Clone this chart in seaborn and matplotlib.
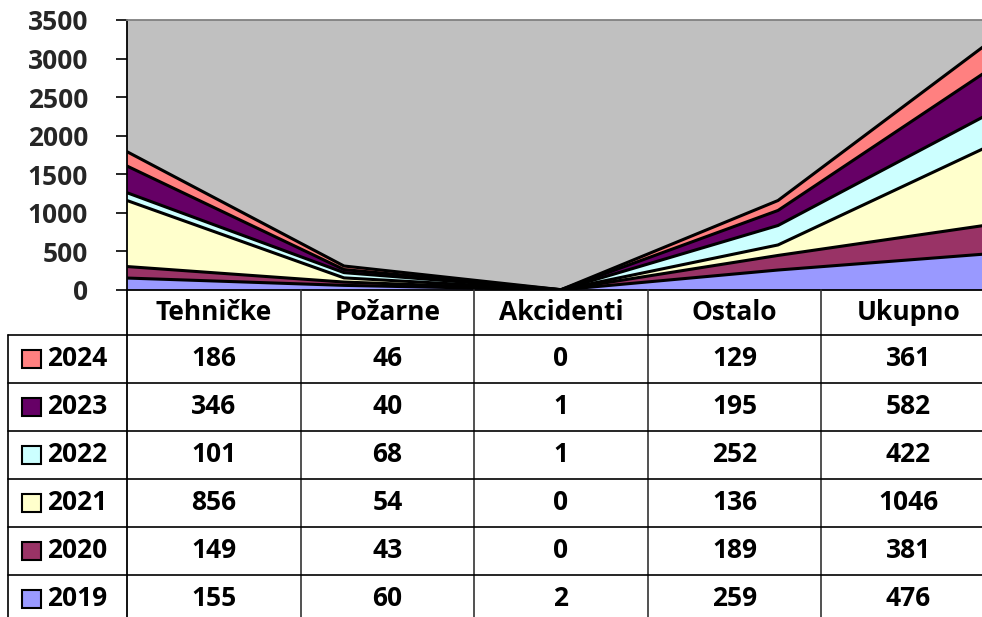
import numpy as np
import pandas as pd
import matplotlib
matplotlib.use('Agg')
import matplotlib.pyplot as plt
import seaborn as sns
from matplotlib.patches import Rectangle

# Podaci
categories = ['Tehničke', 'Požarne', 'Akcidenti', 'Ostalo', 'Ukupno']
years = ['2019', '2020', '2021', '2022', '2023', '2024']
v2019 = [155, 60, 2, 259, 476]
v2020 = [149, 43, 0, 189, 381]
v2021 = [856, 54, 0, 136, 1046]
v2022 = [101, 68, 1, 252, 422]
v2023 = [346, 40, 1, 195, 582]
v2024 = [186, 46, 0, 129, 361]
series = [v2019, v2020, v2021, v2022, v2023, v2024]
colors = ['#9999FF', '#993366', '#FFFFCC', '#CCFFFF', '#660066', '#FF8080']
y_ticks = [0, 500, 1000, 1500, 2000, 2500, 3000, 3500]

sns.set_theme(style='white')
plt.rcParams['font.family'] = ['Open Sans', 'DejaVu Sans']
plt.rcParams['font.weight'] = 'bold'
FS = 19

W, H = 982, 617
fig = plt.figure(figsize=(W / 100, H / 100), dpi=100)


def box(x0, y0, x1, y1):
    return [x0 / W, 1 - y1 / H, (x1 - x0) / W, (y1 - y0) / H]


# Grafikon (stacked area)
ax = fig.add_axes(box(127, 20, 995, 290))
ax.set_facecolor('#C0C0C0')

df = pd.DataFrame({'x': range(len(categories))})
for yr, vals in zip(years, series):
    df[yr] = vals
cum = df[years].cumsum(axis=1)

prev = np.zeros(len(categories))
for yr, c in zip(years, colors):
    top = cum[yr].values
    ax.fill_between(df['x'], prev, top, facecolor=c, edgecolor='none', zorder=2)
    prev = top

long = cum.assign(x=df['x']).melt(id_vars='x', var_name='year', value_name='y')
sns.lineplot(data=long, x='x', y='y', units='year', estimator=None,
             color='black', lw=2.2, ax=ax, zorder=3, legend=False)

ax.set_xlim(0, len(categories) - 1)
ax.set_ylim(0, 3500)
ax.set_yticks(y_ticks)
ax.set_yticklabels([str(t) for t in y_ticks], fontsize=FS, fontweight='bold')
ax.set_xticks([])
ax.set_xlabel('')
ax.set_ylabel('')
ax.tick_params(axis='y', direction='out', length=8, width=1.2, color='black', pad=20, left=True)
for s in ['left', 'bottom']:
    ax.spines[s].set_color('black')
    ax.spines[s].set_linewidth(1.3)
for s in ['top', 'right']:
    ax.spines[s].set_color('#808080')
    ax.spines[s].set_linewidth(1.3)

# Tablica podataka
tab = fig.add_axes([0, 0, 1, 1], zorder=5)
tab.set_xlim(0, W)
tab.set_ylim(H, 0)
tab.axis('off')
tab.patch.set_alpha(0)

col_edges = [127 + i * 173.6 for i in range(len(categories) + 1)]
row_h = 48
head_top, head_bot = 290, 335
for i, cat in enumerate(categories):
    xc = (col_edges[i] + col_edges[i + 1]) / 2
    tab.text(xc, (head_top + head_bot) / 2, cat, ha='center', va='center',
             fontsize=FS, fontweight='bold', color='black')

for x in col_edges[1:]:
    tab.plot([x, x], [head_top, H], color='#333333', lw=1.2)
tab.plot([127, 127], [head_top, H], color='black', lw=1.3)
tab.plot([8, 8], [head_bot, H], color='black', lw=1.2)

rows = list(zip(years, series, colors))[::-1]
for r, (yr, vals, c) in enumerate(rows):
    y0 = head_bot + r * row_h
    yc = y0 + row_h / 2
    tab.plot([8, W], [y0, y0], color='black', lw=1.2)
    tab.add_patch(Rectangle((22, yc - 9), 19, 18, facecolor=c, edgecolor='black', lw=1.5))
    tab.text(47, yc, yr, ha='left', va='center', fontsize=FS, fontweight='bold', color='black')
    for i, v in enumerate(vals):
        xc = (col_edges[i] + col_edges[i + 1]) / 2
        tab.text(xc, yc, str(v), ha='center', va='center', fontsize=FS,
                 fontweight='bold', color='black')

fig.savefig('out.png', dpi=100)
